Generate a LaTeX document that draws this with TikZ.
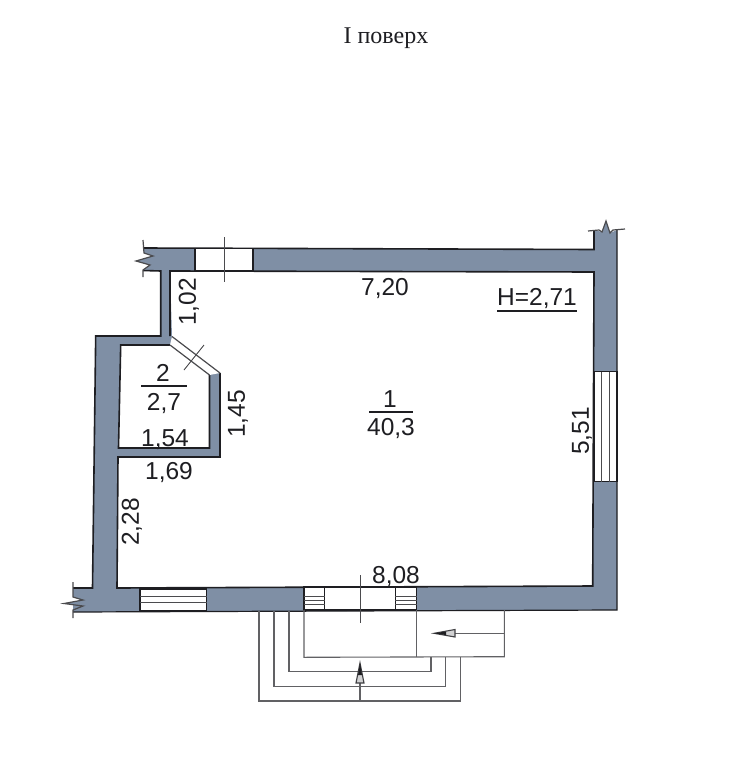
\documentclass[tikz,border=0pt]{standalone}
\usepackage{fontspec}
\setmainfont{Liberation Sans}
\newfontfamily\titlefont{Liberation Serif}
\definecolor{wallc}{HTML}{7F8FA5}
\definecolor{inkc}{HTML}{1E1E22}
\tikzset{
  wallfill/.style={fill=wallc,draw=none},
  wallline/.style={draw=inkc,line width=1.6pt,line join=miter},
  thinline/.style={draw=inkc!80,line width=0.9pt},
  porch/.style={draw=inkc!70,line width=1.1pt},
  winbox/.style={fill=white,draw=inkc,line width=1.1pt},
  dim/.style={font=\fontsize{24.5}{26}\selectfont,inner sep=0pt,text=inkc},
  dimv/.style={dim,rotate=90},
  pointer/.style={fill=white!80!inkc,draw=inkc!85,line width=1.1pt},
}
\begin{document}
\begin{tikzpicture}[x=1pt,y=-1pt]
\useasboundingbox[fill=white] (0,0) rectangle (744,765);
% walls
\path[wallfill,even odd rule]
  (143,248)--(594,249.5)--(594,230)--(602,232)--(606,221)--(610,233)--(617,230)--(617,610)--(73,612)--(73,604)--(64,603.5)--(83,600)--(73,597)--(73,588)--(92.5,588)--(95.7,336)--(160.7,336)--(160.7,271)--(143,270.5)--(150,265)--(136,261)--(153,256)--(144,253)--cycle
  (170,271)--(594,272)--(592.7,586)--(117,588)--(118,457)--(220,457)--(220,373)--(172,336.5)--cycle
  (120.7,345)--(170,345)--(209.5,375)--(209.5,448)--(118.5,448)--cycle;
% outlines
\draw[wallline] (143,248)--(594,249.5)--(594,230);
\draw[wallline,line width=1.2pt] (617,230)--(617,610)--(73,612);
\draw[wallline] (73,588)--(92.5,588)--(95.7,336)--(160.7,336)--(160.7,271)--(143,270.5);
\draw[wallline] (170,336)--(170,271)--(594,272)--(592.7,586)--(117,588)--(118,457)--(220,457)--(220,373);
\draw[wallline] (170,345)--(120.7,345)--(118.5,448)--(209.5,448)--(209.5,375);
% breaks
\draw[thinline,line width=1.2pt] (143,240)--(144,253)--(153,256)--(136,261)--(150,265)--(143,270)--(143,277);
\draw[thinline,line width=1.2pt] (73,582)--(73,597)--(83,600)--(64,603.5)--(83,606)--(73,610)--(73,618);
\draw[thinline,line width=1.2pt] (588,231)--(599,230)--(602,232)--(606,221)--(610,233)--(613,230)--(625,229);
% top window
\draw[winbox] (195,248.5) rectangle (253,271);
\draw[thinline] (224,237)--(224,282);
% diagonal door
\fill[white] (172,336.5)--(220,373)--(209.5,375)--(170,345)--cycle;
\draw[thinline,line width=1.2pt] (172,336.5)--(220,373) (170,345)--(209.5,375);
\draw[thinline] (184,370)--(204,345);
% right window
\draw[winbox] (594,371.7) rectangle (617,481.7);
\draw[thinline] (601,371.7)--(601,481.7) (609,371.7)--(609,481.7);
% bottom window
\draw[winbox] (140,589) rectangle (206.7,611);
\draw[thinline] (140,596.7)--(206.7,596.7) (140,602.7)--(206.7,602.7);
% bottom door
\draw[winbox] (304,587) rectangle (325,610);
\draw[thinline] (304,596)--(325,596) (304,600)--(325,600) (304,604)--(325,604);
\fill[white] (325,587.5) rectangle (395.3,609.5);
\draw[wallline,line width=1.2pt] (325,587)--(395.3,587) (325,610)--(395.3,610);
\draw[winbox] (395.3,587) rectangle (416.7,610);
\draw[thinline] (395.3,596)--(416.7,596) (395.3,600)--(416.7,600) (395.3,604)--(416.7,604);
\draw[thinline] (360,575)--(360,622.7);
% porch
\draw[porch] (304,610)--(304,657.3)--(504.3,656.7)--(504.3,610);
\draw[porch] (416.7,610)--(416.7,657);
\draw[porch] (289,611)--(289,671.7)--(431,671.7)--(431,657);
\draw[porch] (274,611)--(274,686.7)--(445.3,686.7)--(445.3,657);
\draw[porch] (259,611)--(259,701)--(460.3,701)--(460.3,657);
% arrows
\draw[porch] (504.3,633.3)--(455,633.3);
\draw[pointer] (434,633.3)--(455,629.5)--(455,637)--cycle;
\fill[inkc] (434,633.3)--(446,631.5)--(446,635)--cycle;
\draw[porch] (360,701)--(360,683);
\draw[pointer] (360,663)--(356,683)--(364,683)--cycle;
\fill[inkc] (360,663)--(358,675)--(362,675)--cycle;
% texts
\node[font=\titlefont\fontsize{24}{26}\selectfont,inner sep=0pt,text=inkc] (title) at (386,38) {І поверх};
\node[dim] (d720) at (385,289) {7,20};
\node[dim] (dH) at (537,299) {H=2,71};
\draw[draw=inkc,line width=1.1pt] (497,311)--(577,311);
\node[dim] (r1) at (390,399) {1};
\draw[draw=inkc,line width=1.1pt] (369,412)--(413,412);
\node[dim] (a1) at (391,429) {40,3};
\node[dim] (r2) at (163,373) {2};
\draw[draw=inkc,line width=1.1pt] (141,386)--(187,386);
\node[dim] (a2) at (164,404) {2,7};
\node[dim] (d154) at (165,440) {1,54};
\node[dim] (d169) at (169,473) {1,69};
\node[dimv] (d102) at (189,302) {1,02};
\node[dimv] (d145) at (238,414) {1,45};
\node[dimv] (d228) at (132,522) {2,28};
\node[dimv] (d551) at (582,431) {5,51};
\node[dim] (d808) at (396,577) {8,08};
\end{tikzpicture}
\end{document}
